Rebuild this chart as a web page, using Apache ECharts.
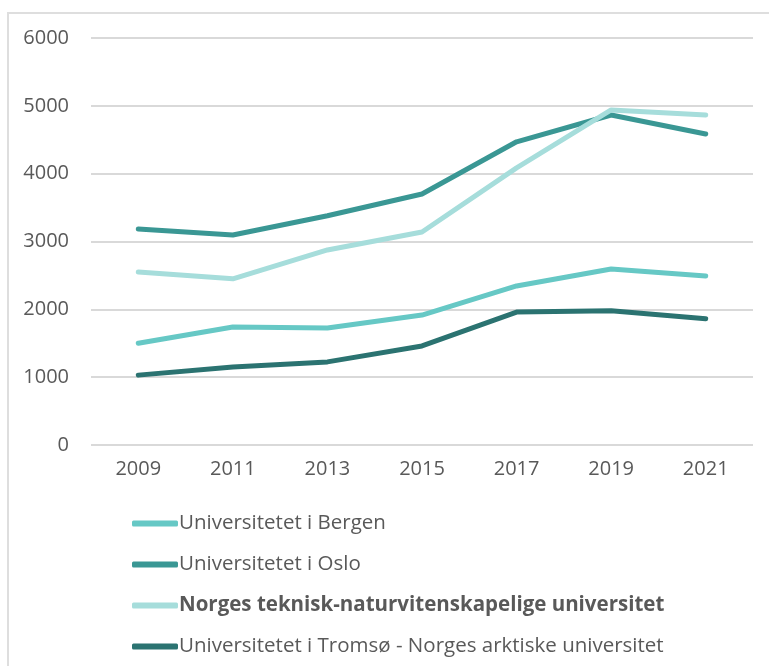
<!DOCTYPE html>
<html>
<head>
<meta charset="utf-8">
<script src="https://cdn.jsdelivr.net/npm/echarts@6/dist/echarts.min.js"></script>
<style>
html,body{margin:0;padding:0;background:#fff;}
#chart{width:769px;height:666px;}
</style>
</head>
<body>
<div id="chart"></div>
<script>
const years = ['2009','2011','2013','2015','2017','2019','2021'];
const bergen = [1500, 1740, 1725, 1915, 2345, 2595, 2490];
const oslo = [3185, 3095, 3380, 3700, 4470, 4865, 4585];
const ntnu = [2550, 2450, 2875, 3140, 4085, 4940, 4865];
const tromso = [1030, 1150, 1225, 1460, 1960, 1980, 1860];
const names = ['Universitetet i Bergen','Universitetet i Oslo','Norges teknisk-naturvitenskapelige universitet','Universitetet i Tromsø - Norges arktiske universitet'];
const colors = ['#66c8c5','#3a9794','#a6dddb','#2b7371'];
const values = [bergen, oslo, ntnu, tromso];
const FONT = '"Open Sans", sans-serif';
const FS = 20;
const LFS = 20.5;

const chart = echarts.init(document.getElementById('chart'));
chart.setOption({
  animation: false,
  textStyle: {fontFamily: FONT},
  graphic: [{
    type: 'rect', silent: true, z: -1,
    shape: {x: 8, y: 13, width: 800, height: 700},
    style: {fill: 'none', stroke: '#dedede', lineWidth: 2}
  }],
  grid: {left: 91, right: 16, top: 38, bottom: 221},
  xAxis: {
    type: 'category', data: years, boundaryGap: true,
    axisLine: {show: false}, axisTick: {show: false},
    axisLabel: {color: '#595959', fontSize: FS, margin: 14, fontFamily: FONT}
  },
  yAxis: {
    type: 'value', min: 0, max: 6000, interval: 1000,
    axisLine: {show: false}, axisTick: {show: false},
    splitLine: {lineStyle: {color: '#d9d9d9', width: 2}},
    axisLabel: {color: '#595959', fontSize: FS, margin: 22, fontFamily: FONT,
      formatter: function(v){ return String(v); }}
  },
  legend: {
    orient: 'vertical', left: 127, top: 508, itemGap: 20,
    itemWidth: 46, itemHeight: 6, icon: 'roundRect',
    data: names,
    formatter: function(n){ return n === names[2] ? '{b|' + n + '}' : n; },
    textStyle: {color: '#595959', fontSize: LFS, fontFamily: FONT, padding: [0,0,0,-4],
      rich: {b: {fontWeight: 'bold', fontSize: LFS, color: '#595959', fontFamily: FONT}}}
  },
  series: names.map((n, i) => ({
    name: n, type: 'line', data: values[i], symbol: 'none',
    lineStyle: {color: colors[i], width: 5, cap: 'round', join: 'round'},
    itemStyle: {color: colors[i]}
  }))
});
</script>
</body>
</html>
